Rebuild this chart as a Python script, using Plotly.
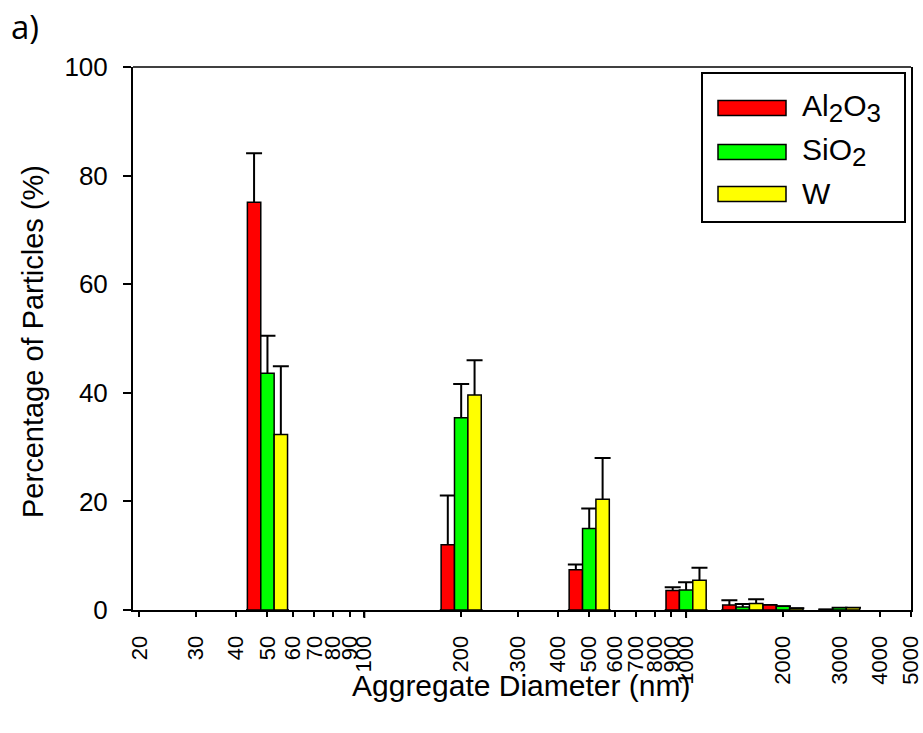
import numpy as np
import plotly.graph_objects as go

# ---------------- data ----------------
diameters = [50, 200, 500, 1000, 1500, 2000, 3000]
al2o3 = [75.1, 12.0, 7.4, 3.6, 0.9, 0.9, 0.1]
al2o3_err = [9.0, 9.1, 1.0, 0.6, 0.9, None, None]
sio2 = [43.6, 35.4, 15.0, 3.7, 0.55, 0.7, 0.4]
sio2_err = [6.9, 6.2, 3.7, 1.4, 0.55, None, None]
tungsten = [32.3, 39.6, 20.4, 5.5, 1.2, 0.3, 0.4]
tungsten_err = [12.6, 6.4, 7.6, 2.3, 0.8, None, None]

SUB = "<sub><span style='font-size:26px'>{}</span></sub>"
series_names = ["Al" + SUB.format("2") + "O" + SUB.format("3"),
                "SiO" + SUB.format("2"), "W"]
series_values = [al2o3, sio2, tungsten]
series_errors = [al2o3_err, sio2_err, tungsten_err]
series_colors = ["#FF0000", "#00FF00", "#FFFF00"]

x_tick_values = [20, 30, 40, 50, 60, 70, 80, 90, 100, 200, 300, 400, 500,
                 600, 700, 800, 900, 1000, 2000, 3000, 4000, 5000]
x_tick_labels = [str(v) for v in x_tick_values]
y_tick_values = [0, 20, 40, 60, 80, 100]

# ---------------- layout geometry (pixels) ----------------
W, H = 923, 733
L, R, T, B = 133, 911, 67, 610
PW, PH = R - L, B - T


def px(x):
    return (x - L) / PW


def py(y):
    return (B - y) / PH


FONT = "Liberation Sans, Arial, sans-serif"
BW = 0.0416  # bar width in decades
logx = np.log10(diameters)

fig = go.Figure()

# error bars (upper only) drawn first, hidden behind bars
for k, (vals, errs) in enumerate(zip(series_values, series_errors)):
    plus = [e if e is not None else None for e in errs]
    minus = [v if e is not None else None for v, e in zip(vals, errs)]
    fig.add_trace(go.Bar(
        x=logx, y=vals, width=BW, offset=-1.5 * BW + k * BW,
        marker=dict(color="rgba(0,0,0,0)", line=dict(width=0)),
        error_y=dict(type="data", symmetric=False, array=plus, arrayminus=minus,
                     color="black", thickness=2, width=8),
        showlegend=False, hoverinfo="skip"))

for k, (name, vals, col) in enumerate(zip(series_names, series_values, series_colors)):
    fig.add_trace(go.Bar(
        x=logx, y=vals, width=BW, offset=-1.5 * BW + k * BW, name=name,
        marker=dict(color=col, line=dict(color="black", width=1.5)),
        showlegend=False))

fig.update_layout(
    width=W, height=H, barmode="overlay",
    margin=dict(l=L, r=W - R, t=T, b=H - B, autoexpand=False),
    paper_bgcolor="white", plot_bgcolor="white",
    font=dict(family=FONT, color="black"),
    xaxis=dict(range=[1.2811, np.log10(5000)], tickmode="array",
               tickvals=np.log10(x_tick_values), ticktext=x_tick_labels,
               tickangle=-90, tickfont=dict(size=22, family=FONT),
               ticks="outside", ticklen=5, tickwidth=2, tickcolor="black",
               showline=True, linecolor="black", linewidth=2, mirror=False,
               showgrid=False, zeroline=False, ticklabelstandoff=10,
               automargin=False, ticklabeloverflow="allow"),
    yaxis=dict(range=[0, 100], tickmode="array", tickvals=y_tick_values,
               tickfont=dict(size=26, family=FONT),
               ticks="outside", ticklen=8, tickwidth=2, tickcolor="black",
               showline=True, linecolor="black", linewidth=2, mirror=True,
               showgrid=False, zeroline=False, ticklabelstandoff=10,
               automargin=False, ticklabeloverflow="allow"),
)

# longer ticks at 100 and 1000
for v in [100, 1000]:
    fig.add_shape(type="line", xref="x", yref="paper", x0=np.log10(v), x1=np.log10(v),
                  y0=0, y1=py(618), line=dict(color="black", width=2))
# top frame line
fig.add_shape(type="line", xref="paper", yref="paper", x0=0, x1=1, y0=1, y1=1,
              line=dict(color="black", width=1.5))

# custom legend
fig.add_shape(type="rect", xref="paper", yref="paper",
              x0=px(702), x1=px(905), y0=py(222), y1=py(73),
              line=dict(color="black", width=2), fillcolor="white")
legend_y = [108, 152, 194]
for name, col, yc in zip(series_names, series_colors, legend_y):
    fig.add_shape(type="rect", xref="paper", yref="paper",
                  x0=px(718), x1=px(786), y0=py(yc + 7.5), y1=py(yc - 7.5),
                  line=dict(color="black", width=1.5), fillcolor=col)
    fig.add_annotation(x=px(800), y=py(yc), xref="paper", yref="paper",
                       text=name, showarrow=False, xanchor="left", yanchor="middle",
                       font=dict(size=30, family=FONT))

# axis titles
fig.add_annotation(x=px(521), y=py(685), xref="paper", yref="paper",
                   text="Aggregate Diameter (nm)", showarrow=False,
                   xanchor="center", yanchor="middle", font=dict(size=30, family=FONT))
fig.add_annotation(x=px(33), y=py(342), xref="paper", yref="paper",
                   text="Percentage of Particles (%)", showarrow=False, textangle=-90,
                   xanchor="center", yanchor="middle", font=dict(size=29, family=FONT))
fig.add_annotation(x=px(25), y=py(27), xref="paper", yref="paper",
                   text="a)", showarrow=False, xanchor="center", yanchor="middle",
                   font=dict(size=33, family="Open Sans, sans-serif"))

fig.write_html("out.html")
